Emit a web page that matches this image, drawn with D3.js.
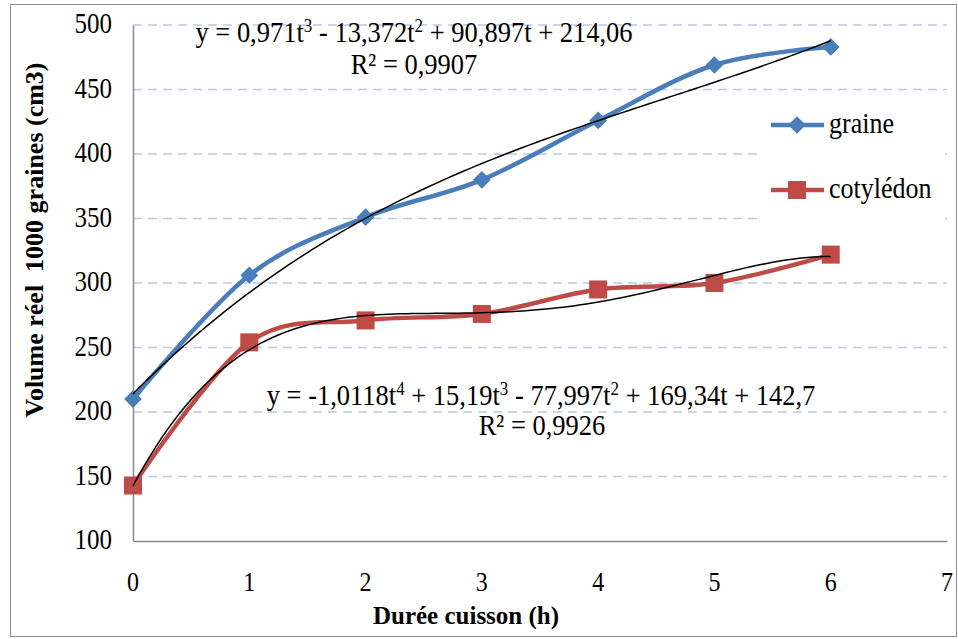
<!DOCTYPE html>
<html><head><meta charset="utf-8">
<script src="https://cdn.jsdelivr.net/npm/d3@7"></script>
<style>body{margin:0;background:#fff}svg{display:block}text{font-family:"Liberation Serif","Times New Roman",serif;fill:#000}</style>
</head><body>
<svg id="c" width="958" height="639"></svg>
<script>
const hours = [0,1,2,3,4,5,6];
const graine = [210,306,351,380,426,469,483];
const cotyledon = [143,254,271,276,295,300,322];
const xTicks = [0,1,2,3,4,5,6,7];
const yTicks = [100,150,200,250,300,350,400,450,500];
// trendline coefficients (constant first), from the chart's equations
const graineFit = [214.06, 90.897, -13.372, 0.971];
const cotyFit = [142.7, 169.34, -77.997, 15.19, -1.0118];

const svg = d3.select("#c");
const x = d3.scaleLinear().domain([0,7]).range([133,947]);
const y = d3.scaleLinear().domain([100,500]).range([541,25]);
const SY = 1.15; // vertical text stretch seen in the reference

function label(px, py, str, size, anchor, weight){
  const g = svg.append("g").attr("transform",`translate(${px},${py}) scale(1,${SY})`);
  return g.append("text").attr("text-anchor",anchor||"start").attr("font-size",size)
    .attr("font-weight",weight||"normal").text(str);
}

svg.append("rect").attr("x",10.5).attr("y",4.5).attr("width",946).attr("height",632)
  .attr("fill","#fff").attr("stroke","#8c8c8c").attr("stroke-width",1);

// gridlines
svg.append("g").selectAll("line").data(yTicks.filter(d=>d>100)).join("line")
  .attr("x1",x(0)).attr("x2",x(7)).attr("y1",d=>y(d)).attr("y2",d=>y(d))
  .attr("stroke","#b9c9e6").attr("stroke-width",1.5).attr("stroke-dasharray","9,6");

// axes (lines from d3 axes, labels drawn with stretch)
const yAxis = svg.append("g").attr("transform",`translate(${x(0)},0)`)
  .call(d3.axisLeft(y).tickValues(yTicks).tickSize(0).tickFormat(""));
const xAxis = svg.append("g").attr("transform",`translate(0,${y(100)})`)
  .call(d3.axisBottom(x).tickValues(xTicks).tickSize(0).tickFormat(""));
[yAxis,xAxis].forEach(a=>a.select(".domain").attr("stroke","#8c8c8c").attr("stroke-width",1.5));
const fmt = d3.format("d");
yTicks.forEach(d=>label(112, y(d)+8, fmt(d), 25, "end"));
xTicks.forEach(d=>label(x(d), 591, fmt(d), 24, "middle"));

// legend background (covers gridlines)
svg.append("rect").attr("x",762).attr("y",100).attr("width",183).attr("height",125).attr("fill","#fff");

const line = d3.line().x((d,i)=>x(hours[i])).y(d=>y(d)).curve(d3.curveCatmullRom.alpha(0));
const poly = (c,t)=>c.reduce((s,a,k)=>s+a*Math.pow(t,k),0);
const ts = d3.range(0,6.0001,0.05);
const trend = d3.line().x(d=>x(d[0])).y(d=>y(d[1]));

const blue = "#4a7ebb", red = "#be4b48";
svg.append("path").attr("d",line(graine)).attr("fill","none").attr("stroke",blue).attr("stroke-width",4.5);
svg.append("path").attr("d",line(cotyledon)).attr("fill","none").attr("stroke",red).attr("stroke-width",4.5);

const diamond = d3.symbol().type(d3.symbolDiamond2).size(200);
svg.append("g").selectAll("path").data(graine).join("path")
  .attr("d",diamond).attr("transform",(d,i)=>`translate(${x(hours[i])},${y(d)})`).attr("fill",blue);
svg.append("g").selectAll("rect").data(cotyledon).join("rect")
  .attr("x",(d,i)=>x(hours[i])-9).attr("y",d=>y(d)-9).attr("width",18).attr("height",18).attr("fill",red);

svg.append("path").attr("d",trend(ts.map(t=>[t,poly(graineFit,t)]))).attr("fill","none").attr("stroke","#000").attr("stroke-width",1.5);
svg.append("path").attr("d",trend(ts.map(t=>[t,poly(cotyFit,t)]))).attr("fill","none").attr("stroke","#000").attr("stroke-width",1.5);

// legend
const leg = [{name:"graine",c:blue,ty:125,m:"d"},{name:"cotylédon",c:red,ty:190,m:"s"}];
leg.forEach(l=>{
  svg.append("line").attr("x1",771).attr("x2",824).attr("y1",l.ty).attr("y2",l.ty).attr("stroke",l.c).attr("stroke-width",4.5);
  if(l.m==="d") svg.append("path").attr("d",diamond).attr("transform",`translate(797,${l.ty})`).attr("fill",l.c);
  else svg.append("rect").attr("x",788).attr("y",l.ty-9).attr("width",18).attr("height",18).attr("fill",l.c);
  label(829, l.ty+8, l.name, 26, "start");
});

// axis titles
svg.append("text").attr("x",466).attr("y",624).attr("text-anchor","middle")
  .attr("font-size",25).attr("font-weight","bold").text("Durée cuisson (h)");
svg.append("text").attr("transform","translate(43,240) rotate(-90)").attr("text-anchor","middle")
  .attr("font-size",26).attr("font-weight","bold").style("white-space","pre").text("Volume réel  1000 graines (cm3)");

// equations
function eq(parts, cx, by){
  const t = label(cx, by, null, 26.5, "middle").style("white-space","pre");
  let shift = 0;
  parts.forEach(p=>{
    if(typeof p === "object"){ t.append("tspan").attr("dy",-9).attr("font-size",17).text(p.sup); shift = 9; }
    else { t.append("tspan").attr("dy",shift).text(p); shift = 0; }
  });
}
eq(["y = 0,971t",{sup:"3"}," - 13,372t",{sup:"2"}," + 90,897t + 214,06"], 414, 42);
eq(["R² = 0,9907"], 414, 74);
eq(["y = -1,0118t",{sup:"4"}," + 15,19t",{sup:"3"}," - 77,997t",{sup:"2"}," + 169,34t + 142,7"], 541, 405);
eq(["R² = 0,9926"], 542, 435);
</script>
</body></html>
